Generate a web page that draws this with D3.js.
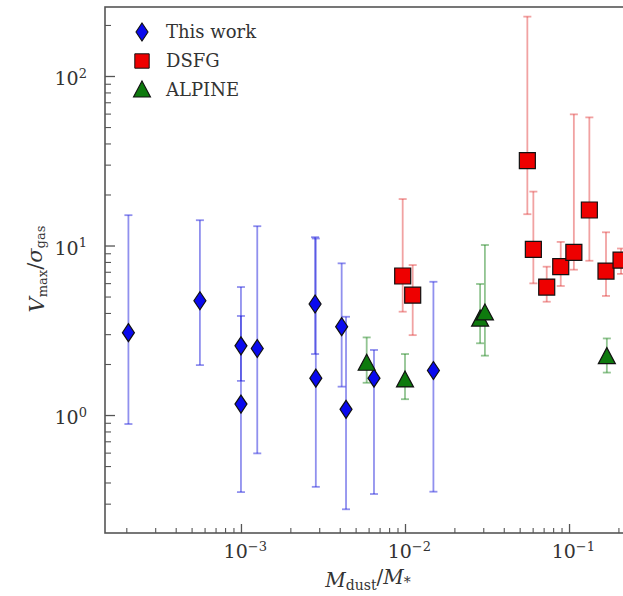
<!DOCTYPE html>
<html>
<head>
<meta charset="utf-8">
<script src="https://cdn.jsdelivr.net/npm/d3@7"></script>
<style>
  html, body { margin: 0; padding: 0; background: #fff; overflow: hidden; }
  svg { display: block; }
  text { font-family: "DejaVu Serif", "Liberation Serif", serif; fill: #333; }
</style>
</head>
<body>
<svg id="chart" width="623" height="596"></svg>
<script>
// Rotation-to-dispersion ratio versus dust-to-stellar mass ratio.
// Each series: x (Mdust/M*), y (Vmax/sigma_gas), asymmetric y error bounds.

const thisWorkX  = [2.06e-4, 5.62e-4, 1.0e-3, 1.0e-3, 1.257e-3, 2.83e-3, 2.86e-3, 4.11e-3, 4.37e-3, 6.47e-3, 1.49e-2];
const thisWorkY  = [3.06, 4.72, 2.56, 1.16, 2.47, 4.52, 1.65, 3.32, 1.08, 1.65, 1.83];
const thisWorkHi = [15.1, 14.1, 5.69, 3.84, 13.0, 11.2, 11.0, 7.85, 3.80, 2.42, 6.11];
const thisWorkLo = [0.885, 1.97, 1.59, 0.351, 0.594, 2.29, 0.377, 1.47, 0.278, 0.342, 0.353];

const dsfgX  = [9.68e-3, 1.114e-2, 5.57e-2, 6.06e-2, 7.31e-2, 8.9e-2, 0.107, 0.133, 0.168, 0.2075];
const dsfgY  = [6.61, 5.1, 31.7, 9.5, 5.69, 7.5, 9.12, 16.2, 7.07, 8.2];
const dsfgHi = [18.8, 7.67, 224, 20.8, 7.5, 10.5, 59.4, 57.0, 11.97, 9.6];
const dsfgLo = [4.07, 2.96, 15.3, 5.98, 4.66, 5.77, 7.2, 8.13, 5.04, 6.8];
const dsfgXLo = [null, null, null, null, 6.8e-2, null, null, null, null, null];
const dsfgXHi = [null, null, null, null, 7.85e-2, null, null, null, null, null];

const alpineX  = [5.84e-3, 1.0e-2, 2.87e-2, 3.07e-2, 0.170];
const alpineY  = [2.02, 1.61, 3.68, 4.0, 2.21];
const alpineHi = [2.87, 2.29, 5.93, 10.07, 2.83];
const alpineLo = [1.55, 1.24, 2.65, 2.24, 1.78];

const legendLabels = ["This work", "DSFG", "ALPINE"];
const xMajorTicks = [1e-3, 1e-2, 1e-1];
const yMajorTicks = [1, 10, 100];

const svg = d3.select("#chart");
const plotLeft = 105, plotRight = 632, plotTop = 7, plotBottom = 533;

const x = d3.scaleLog().domain([1.483e-4, 0.242]).range([plotLeft, plotRight]);
const y = d3.scaleLog().domain([0.2014, 255.3]).range([plotBottom, plotTop]);

// minor tick values for each decade within the domain
function minorTicks(scale) {
  const [a, b] = scale.domain();
  const out = [];
  for (let e = Math.floor(Math.log10(a)); e <= Math.ceil(Math.log10(b)); e++) {
    for (let m = 2; m <= 9; m++) {
      const v = m * Math.pow(10, e);
      if (v >= a && v <= b) out.push(v);
    }
  }
  return out;
}

const axisColor = "#555";

// clip region for data marks
svg.append("defs").append("clipPath").attr("id", "plotClip")
  .append("rect").attr("x", plotLeft).attr("y", plotTop)
  .attr("width", plotRight - plotLeft).attr("height", plotBottom - plotTop);

// frame
svg.append("rect")
  .attr("x", plotLeft).attr("y", plotTop).attr("width", plotRight - plotLeft).attr("height", plotBottom - plotTop)
  .attr("fill", "none").attr("stroke", axisColor).attr("stroke-width", 1.6);

function superscriptLabels(sel) {
  sel.selectAll(".tick text").each(function(d) {
    const e = Math.round(Math.log10(d));
    const t = d3.select(this);
    t.text(null);
    t.append("tspan").text("10");
    t.append("tspan").attr("dy", "-0.55em").attr("font-size", "13px")
      .text(e < 0 ? "\u2212" + Math.abs(e) : String(e));
  });
}

// x axis: major ticks with labels, minor ticks
const gx = svg.append("g").attr("transform", `translate(0,${plotBottom})`)
  .call(d3.axisBottom(x).tickValues(xMajorTicks).tickSizeInner(-9).tickSizeOuter(0).tickPadding(12));
gx.select(".domain").remove();
gx.selectAll(".tick line").attr("stroke", axisColor).attr("stroke-width", 1.3);
gx.selectAll(".tick text").attr("font-size", "19px").attr("fill", "#333").attr("font-family", "DejaVu Serif, serif");
superscriptLabels(gx);
gx.selectAll(".tick text").attr("dy", "0.71em").attr("dx", "0.2em");

const gxm = svg.append("g").attr("transform", `translate(0,${plotBottom})`)
  .call(d3.axisBottom(x).tickValues(minorTicks(x)).tickFormat("").tickSizeInner(-5).tickSizeOuter(0));
gxm.select(".domain").remove();
gxm.selectAll(".tick line").attr("stroke", axisColor).attr("stroke-width", 1.1);

// y axis
const gy = svg.append("g").attr("transform", `translate(${plotLeft},0)`)
  .call(d3.axisLeft(y).tickValues(yMajorTicks).tickSizeInner(-10).tickSizeOuter(0).tickPadding(18));
gy.select(".domain").remove();
gy.selectAll(".tick line").attr("stroke", axisColor).attr("stroke-width", 1.3);
gy.selectAll(".tick text").attr("font-size", "19px").attr("fill", "#333").attr("font-family", "DejaVu Serif, serif");
superscriptLabels(gy);
gy.selectAll(".tick text").attr("dy", "0.45em");

const gym = svg.append("g").attr("transform", `translate(${plotLeft},0)`)
  .call(d3.axisLeft(y).tickValues(minorTicks(y)).tickFormat("").tickSizeInner(-6).tickSizeOuter(0));
gym.select(".domain").remove();
gym.selectAll(".tick line").attr("stroke", axisColor).attr("stroke-width", 1.1);

// axis titles
const xl = svg.append("text").attr("x", 368).attr("y", 587).attr("text-anchor", "middle")
  .attr("font-size", "20px").attr("fill", "#333");
xl.append("tspan").attr("font-style", "italic").text("M");
xl.append("tspan").attr("font-size", "14px").attr("dy", "0.2em").text("dust");
xl.append("tspan").attr("dy", "-0.28em").text("/");
xl.append("tspan").attr("font-style", "italic").text("M");
xl.append("tspan").attr("font-size", "14px").attr("dy", "0.2em").text("*");

const yl = svg.append("text").attr("transform", "translate(44,269) rotate(-90)")
  .attr("text-anchor", "middle").attr("font-size", "21px").attr("fill", "#333");
yl.append("tspan").attr("font-style", "italic").text("V");
yl.append("tspan").attr("font-size", "13px").attr("dy", "0.25em").text("max");
yl.append("tspan").attr("dy", "-0.25em").text("/");
yl.append("tspan").attr("font-style", "italic").text("\u03c3");
yl.append("tspan").attr("font-size", "13px").attr("dy", "0.25em").text("gas");

const plot = svg.append("g").attr("clip-path", "url(#plotClip)");

function series(xs, ys, his, los) {
  return xs.map((v, i) => ({ x: v, y: ys[i], hi: his[i], lo: los[i] }));
}

const blue = series(thisWorkX, thisWorkY, thisWorkHi, thisWorkLo);
const red = series(dsfgX, dsfgY, dsfgHi, dsfgLo).map((d, i) => ({ ...d, xlo: dsfgXLo[i], xhi: dsfgXHi[i] }));
const green = series(alpineX, alpineY, alpineHi, alpineLo);

function errorBars(data, color, opacity) {
  const g = plot.append("g").attr("stroke", color).attr("stroke-opacity", opacity).attr("stroke-width", 1.8).attr("fill", "none");
  const cap = 4;
  data.forEach(d => {
    const cx = x(d.x);
    g.append("line").attr("x1", cx).attr("x2", cx).attr("y1", y(d.hi)).attr("y2", y(d.lo));
    g.append("line").attr("x1", cx - cap).attr("x2", cx + cap).attr("y1", y(d.hi)).attr("y2", y(d.hi));
    g.append("line").attr("x1", cx - cap).attr("x2", cx + cap).attr("y1", y(d.lo)).attr("y2", y(d.lo));
    if (d.xlo != null) {
      const cy = y(d.y);
      g.append("line").attr("x1", x(d.xlo)).attr("x2", x(d.xhi)).attr("y1", cy).attr("y2", cy);
      g.append("line").attr("x1", x(d.xlo)).attr("x2", x(d.xlo)).attr("y1", cy - cap).attr("y2", cy + cap);
      g.append("line").attr("x1", x(d.xhi)).attr("x2", x(d.xhi)).attr("y1", cy - cap).attr("y2", cy + cap);
    }
  });
}

errorBars(blue, "#2222dd", 0.5);
errorBars(red, "#e03030", 0.45);
errorBars(green, "#238a23", 0.5);

const diamondPath = "M0,-9 L6,0 L0,9 L-6,0 Z";
const squarePath = "M-8,-8 L8,-8 L8,8 L-8,8 Z";
const trianglePath = "M0,-9 L8.5,7 L-8.5,7 Z";

function markers(data, path, fill) {
  plot.append("g").selectAll("path").data(data).join("path")
    .attr("d", path)
    .attr("transform", d => `translate(${x(d.x)},${y(d.y)})`)
    .attr("fill", fill).attr("stroke", "#111").attr("stroke-width", 1.2);
}

markers(blue, diamondPath, "#0a0aee");
markers(green, trianglePath, "#0e7a0e");
markers(red, squarePath, "#ee0000");

// legend
const legendShapes = [
  { path: diamondPath, fill: "#0a0aee" },
  { path: squarePath, fill: "#ee0000" },
  { path: trianglePath, fill: "#0e7a0e" }
];
const lg = svg.append("g");
legendLabels.forEach((lab, i) => {
  const cy = 32 + i * 29;
  lg.append("path").attr("d", legendShapes[i].path)
    .attr("transform", `translate(142,${cy})${i === 1 ? " scale(0.9)" : ""}`)
    .attr("fill", legendShapes[i].fill).attr("stroke", "#111").attr("stroke-width", 1.1);
  lg.append("text").attr("x", 166).attr("y", cy + 6).attr("font-size", "18px").attr("fill", "#333").text(lab);
});
</script>
</body>
</html>
